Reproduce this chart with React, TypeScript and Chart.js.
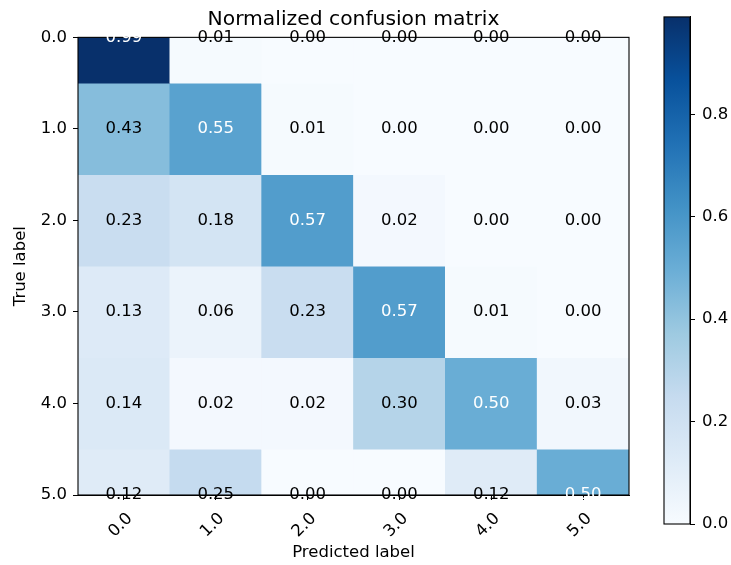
import React, { useEffect, useRef } from 'react';
import { Chart, registerables } from 'chart.js';

Chart.register(...registerables);

// ---------- data ----------
const xLabels = ['0.0', '1.0', '2.0', '3.0', '4.0', '5.0'];
const yTickValues = [0, 1, 2, 3, 4, 5];
const rowValues = [0, 1, 2, 3, 4, 5];
const row0 = [0.99, 0.01, 0.0, 0.0, 0.0, 0.0];
const row1 = [0.43, 0.55, 0.01, 0.0, 0.0, 0.0];
const row2 = [0.23, 0.18, 0.57, 0.02, 0.0, 0.0];
const row3 = [0.13, 0.06, 0.23, 0.57, 0.01, 0.0];
const row4 = [0.14, 0.02, 0.02, 0.3, 0.5, 0.03];
const row5 = [0.12, 0.25, 0.0, 0.0, 0.12, 0.5];
const matrix = [row0, row1, row2, row3, row4, row5];
const colorbarTicks = [0, 0.2, 0.4, 0.6, 0.8];
const vmin = 0;
const vmax = 0.99;
const titleText = 'Normalized confusion matrix';
const xTitleText = 'Predicted label';
const yTitleText = 'True label';

// matplotlib "Blues" colormap stops
const bluesStops = [
  '#f7fbff', '#deebf7', '#c6dbef', '#9ecae1', '#6baed6',
  '#4292c6', '#2171b5', '#08519c', '#08306b',
];

const FONT = "'DejaVu Sans', 'Liberation Sans', sans-serif";
const TICK_SIZE = 16.5;

function hexToRgb(h: string) {
  const n = parseInt(h.slice(1), 16);
  return [(n >> 16) & 255, (n >> 8) & 255, n & 255];
}

function blues(t: number) {
  const c = Math.max(0, Math.min(1, t));
  const pos = c * (bluesStops.length - 1);
  const k = Math.min(Math.floor(pos), bluesStops.length - 2);
  const f = pos - k;
  const a = hexToRgb(bluesStops[k]);
  const b = hexToRgb(bluesStops[k + 1]);
  const r = a.map((v, i) => Math.round(v + (b[i] - v) * f));
  return `rgb(${r[0]},${r[1]},${r[2]})`;
}

const framePlugin = {
  id: 'frame',
  afterDatasetsDraw(chart: any) {
    const { ctx, chartArea } = chart;
    ctx.save();
    ctx.strokeStyle = '#000';
    ctx.lineWidth = 1.1;
    ctx.strokeRect(chartArea.left, chartArea.top, chartArea.right - chartArea.left, chartArea.bottom - chartArea.top);
    ctx.restore();
  },
};

const annotationPlugin = {
  id: 'cellText',
  afterDraw(chart: any) {
    const { ctx } = chart;
    const xs = chart.scales.x;
    const ys = chart.scales.y;
    const thresh = (vmax + vmin) / 2;
    ctx.save();
    ctx.font = `${TICK_SIZE}px ${FONT}`;
    ctx.textAlign = 'center';
    ctx.textBaseline = 'middle';
    matrix.forEach((row, i) => {
      row.forEach((v, j) => {
        const x = xs.getPixelForValue(j);
        const y = ys.getPixelForValue(rowValues[i]);
        ctx.fillStyle = v > thresh ? '#ffffff' : '#000000';
        ctx.fillText(v.toFixed(2), x, y);
      });
    });
    ctx.restore();
  },
};

export default function App() {
  const mainRef = useRef<HTMLCanvasElement>(null);
  const cbRef = useRef<HTMLCanvasElement>(null);

  useEffect(() => {
    Chart.defaults.font.family = FONT;
    Chart.defaults.color = '#000';

    const tickFont = { size: TICK_SIZE, family: FONT };
    const gridOpts = {
      drawOnChartArea: false,
      drawTicks: true,
      tickLength: 5,
      color: '#000',
      lineWidth: 1,
    };

    const main = new Chart(mainRef.current as HTMLCanvasElement, {
      type: 'bar',
      data: {
        labels: xLabels,
        datasets: matrix.map((row, i) => ({
          data: row.map((_v, j) => ({ x: xLabels[j], y: [rowValues[i] - 0.5, rowValues[i] + 0.5] })),
          backgroundColor: row.map((v) => blues((v - vmin) / (vmax - vmin))),
          borderWidth: 0,
          barPercentage: 1,
          categoryPercentage: 1,
          grouped: false,
          clip: 0,
        })) as any,
      },
      options: {
        animation: false,
        responsive: false,
        maintainAspectRatio: false,
        events: [],
        layout: { padding: { left: 0, top: 0, right: 102, bottom: 0 } },
        plugins: {
          legend: { display: false },
          tooltip: { enabled: false },
          title: {
            display: true,
            text: titleText,
            fullSize: false,
            color: '#000',
            font: { size: 20.3, weight: 'normal', family: FONT },
            padding: { top: 8, bottom: 5 },
          },
        },
        scales: {
          x: {
            type: 'category',
            labels: xLabels,
            offset: true,
            grid: { ...gridOpts, offset: false },
            border: { display: true, color: '#000' },
            ticks: {
              autoSkip: false,
              minRotation: 45,
              maxRotation: 45,
              font: tickFont,
              color: '#000',
              padding: 9,
              labelOffset: 6,
            },
            title: {
              display: true,
              text: xTitleText,
              color: '#000',
              font: tickFont,
              padding: { top: 0, bottom: 2 },
            },
            afterFit: (s: any) => {
              s.height = 70;
            },
          },
          y: {
            type: 'linear',
            min: 0,
            max: 5,
            reverse: true,
            afterBuildTicks: (s: any) => {
              s.ticks = yTickValues.map((v) => ({ value: v }));
            },
            grid: gridOpts,
            border: { display: true, color: '#000' },
            ticks: {
              font: tickFont,
              color: '#000',
              padding: 6,
              callback: (v: any) => Number(v).toFixed(1),
            },
            title: {
              display: true,
              text: yTitleText,
              color: '#000',
              font: tickFont,
              padding: { top: 11, bottom: 0 },
            },
            afterFit: (s: any) => {
              s.width = 78;
            },
          },
        },
      } as any,
      plugins: [framePlugin, annotationPlugin],
    });

    const cb = new Chart(cbRef.current as HTMLCanvasElement, {
      type: 'bar',
      data: {
        labels: ['colorbar'],
        datasets: [
          {
            data: [[vmin, vmax]] as any,
            backgroundColor: (c: any) => {
              const chart = c.chart;
              const ys = chart.scales && chart.scales.y;
              if (!chart.chartArea || !ys) return bluesStops[4];
              const g = chart.ctx.createLinearGradient(0, ys.getPixelForValue(vmin), 0, ys.getPixelForValue(vmax));
              bluesStops.forEach((col, k) => g.addColorStop(k / (bluesStops.length - 1), col));
              return g;
            },
            borderWidth: 0,
            barPercentage: 1,
            categoryPercentage: 1,
            clip: 0,
          } as any,
        ],
      },
      options: {
        animation: false,
        responsive: false,
        maintainAspectRatio: false,
        events: [],
        layout: { padding: { left: 24, top: 10, right: 0, bottom: 41 } },
        plugins: {
          legend: { display: false },
          tooltip: { enabled: false },
          title: { display: false },
        },
        scales: {
          x: { display: false },
          y: {
            type: 'linear',
            position: 'right',
            min: vmin,
            max: vmax,
            afterBuildTicks: (s: any) => {
              s.ticks = colorbarTicks.map((v) => ({ value: v }));
            },
            grid: gridOpts,
            border: { display: true, color: '#000' },
            ticks: {
              font: tickFont,
              color: '#000',
              padding: 7,
              callback: (v: any) => Number(v).toFixed(1),
            },
            afterFit: (s: any) => {
              s.width = 41;
            },
          },
        },
      } as any,
      plugins: [framePlugin],
    });

    return () => {
      main.destroy();
      cb.destroy();
    };
  }, []);

  return (
    <div style={{ position: 'fixed', left: 0, top: 0, width: 731, height: 565, background: '#fff' }}>
      <canvas ref={mainRef} width={731} height={565} style={{ position: 'absolute', left: 0, top: 0 }} />
      <canvas ref={cbRef} width={91} height={565} style={{ position: 'absolute', left: 640, top: 0 }} />
    </div>
  );
}
